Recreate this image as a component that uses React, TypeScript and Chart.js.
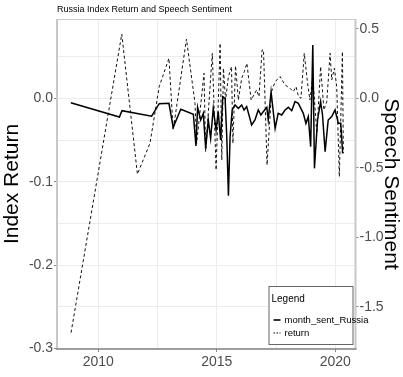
import React, { useEffect, useRef } from "react";
import { Chart, registerables } from "chart.js";

Chart.register(...registerables);

const TITLE = "Russia Index Return and Speech Sentiment";
const LEFT_TITLE = "Index Return";
const RIGHT_TITLE = "Speech Sentiment";
const LEGEND_TITLE = "Legend";
const SERIES_NAMES = ["month_sent_Russia", "return"];

// Speech sentiment (right axis)
const sentDates = [
  2008.84, 2010.89, 2011.0, 2012.25, 2012.57, 2012.98, 2013.16, 2013.48,
  2014.01, 2014.12, 2014.19, 2014.32, 2014.43, 2014.53, 2014.64, 2014.74,
  2014.85, 2014.97, 2015.06, 2015.16, 2015.25, 2015.35, 2015.42, 2015.49,
  2015.56, 2015.65, 2015.77, 2015.91, 2016.05, 2016.15, 2016.26, 2016.47,
  2016.61, 2016.75, 2016.86, 2016.96, 2017.11, 2017.17, 2017.29, 2017.46,
  2017.59, 2017.74, 2017.88, 2018.02, 2018.16, 2018.3, 2018.44, 2018.65,
  2018.76, 2018.86, 2018.96, 2019.05, 2019.12, 2019.25, 2019.38, 2019.46,
  2019.57, 2019.7, 2019.85, 2019.99, 2020.13, 2020.23, 2020.31,
];
const sentValues = [
  -0.032, -0.135, -0.089, -0.129, -0.039, -0.036, -0.209, -0.079,
  -0.115, -0.343, -0.065, -0.156, -0.108, -0.36, -0.156, -0.288,
  -0.072, -0.228, -0.096, -0.3, 0.012, 0.0, -0.276, -0.701,
  -0.276, -0.084, -0.048, -0.072, -0.048, -0.084, -0.06, -0.192,
  -0.156, -0.084, -0.12, -0.096, -0.065, -0.156, 0.047, -0.216,
  -0.108, -0.12, -0.084, -0.065, -0.089, -0.024, -0.036, -0.108,
  -0.18, -0.132, -0.348, 0.383, -0.504, -0.156, -0.024, -0.12,
  -0.384, -0.156, -0.132, -0.084, -0.18, -0.18, -0.396,
];

// Index return (left axis)
const returnDates = [
  2008.85, 2010.99, 2011.65, 2012.18, 2012.57, 2012.98, 2013.16, 2013.72,
  2014.08, 2014.15, 2014.46, 2014.53, 2014.81, 2014.97, 2015.14, 2015.21,
  2015.28, 2015.37, 2015.49, 2015.62, 2015.68, 2015.79, 2015.91, 2016.05,
  2016.16, 2016.27, 2016.45, 2016.68, 2016.78, 2016.91, 2016.97, 2017.12,
  2017.31, 2017.46, 2017.67, 2017.88, 2018.09, 2018.23, 2018.34, 2018.45,
  2018.55, 2018.69, 2018.83, 2018.93, 2019.05, 2019.22, 2019.38, 2019.52,
  2019.64, 2019.78, 2019.85, 2019.96, 2020.06, 2020.17, 2020.3, 2020.34,
];
const returnValues = [
  -0.281, 0.077, -0.091, -0.054, 0.014, 0.048, -0.038, 0.071,
  -0.006, -0.054, 0.03, -0.064, 0.054, -0.086, 0.066, -0.074,
  0.036, -0.002, 0.026, 0.038, -0.054, 0.039, -0.002, 0.024,
  0.032, 0.042, -0.002, 0.01, 0.002, 0.058, 0.058, -0.08,
  0.008, 0.02, 0.026, 0.016, 0.012, 0.008, 0.014, 0.002,
  0.0, 0.054, 0.018, -0.002, 0.026, -0.042, 0.038, -0.014,
  -0.004, 0.054, 0.022, 0.036, 0.014, -0.094, 0.056, -0.066,
];

const leftMajor = [-0.3, -0.2, -0.1, 0.0];
const leftMinor = [-0.25, -0.15, -0.05, 0.05];
const rightMajor = [-1.5, -1.0, -0.5, 0.0, 0.5];
const xMajor = [2010, 2015, 2020];
const xMinor = [2012.5, 2017.5];

const NARROW = '"Liberation Sans Narrow", "Liberation Sans", Arial, sans-serif';
const REGULAR = '"Liberation Sans", Arial, sans-serif';

const isIn = (arr: number[], v: number) => arr.some((a) => Math.abs(a - v) < 1e-6);

const decor = {
  id: "decor",
  beforeDraw(chart: any) {
    const { ctx, width, height } = chart;
    ctx.save();
    ctx.fillStyle = "#ffffff";
    ctx.fillRect(0, 0, width, height);
    ctx.restore();
  },
  afterDatasetsDraw(chart: any) {
    const { ctx, chartArea: a } = chart;
    ctx.save();
    const line = (x1: number, y1: number, x2: number, y2: number, c: string, w: number) => {
      ctx.beginPath();
      ctx.strokeStyle = c;
      ctx.lineWidth = w;
      ctx.setLineDash([]);
      ctx.moveTo(x1, y1);
      ctx.lineTo(x2, y2);
      ctx.stroke();
    };
    line(a.left, a.top + 0.5, a.right, a.top + 0.5, "#c8c8c8", 1);
    line(a.left, a.top, a.left, a.bottom, "#c8c8c8", 2);
    line(a.right, a.top, a.right, a.bottom, "#c8c8c8", 2);
    line(a.left - 1, a.bottom, a.right + 1, a.bottom, "#808080", 1.5);

    // title
    ctx.fillStyle = "#000000";
    ctx.font = `9px ${NARROW}`;
    ctx.textAlign = "left";
    ctx.textBaseline = "middle";
    ctx.fillText(TITLE, a.left, 10);

    // legend
    const bw = 84;
    const bh = 58;
    const bx = a.right - 3 - bw;
    const by = a.bottom - 5 - bh;
    ctx.fillStyle = "#ffffff";
    ctx.fillRect(bx, by, bw, bh);
    ctx.strokeStyle = "#666666";
    ctx.lineWidth = 1;
    ctx.strokeRect(bx + 0.5, by + 0.5, bw, bh);
    ctx.fillStyle = "#000000";
    ctx.font = `10px ${NARROW}`;
    ctx.fillText(LEGEND_TITLE, bx + 3, by + 13);
    const y1 = by + 34;
    const y2 = by + 47;
    ctx.beginPath();
    ctx.strokeStyle = "#000000";
    ctx.lineWidth = 1.6;
    ctx.moveTo(bx + 5, y1);
    ctx.lineTo(bx + 12, y1);
    ctx.stroke();
    ctx.beginPath();
    ctx.lineWidth = 1;
    ctx.setLineDash([1.5, 1.5]);
    ctx.moveTo(bx + 5, y2);
    ctx.lineTo(bx + 12, y2);
    ctx.stroke();
    ctx.setLineDash([]);
    ctx.font = `9.5px ${NARROW}`;
    ctx.fillText(SERIES_NAMES[0], bx + 16, y1);
    ctx.fillText(SERIES_NAMES[1], bx + 16, y2);
    ctx.restore();
  },
};

export default function App() {
  const ref = useRef<HTMLCanvasElement | null>(null);
  useEffect(() => {
    if (!ref.current) return;
    const chart = new Chart(ref.current, {
      type: "line",
      data: {
        datasets: [
          {
            label: SERIES_NAMES[0],
            data: sentDates.map((d, i) => ({ x: d, y: sentValues[i] })),
            yAxisID: "y2",
            borderColor: "#000000",
            borderWidth: 1.5,
            pointRadius: 0,
            tension: 0,
            fill: false,
          },
          {
            label: SERIES_NAMES[1],
            data: returnDates.map((d, i) => ({ x: d, y: returnValues[i] })),
            yAxisID: "y",
            borderColor: "#111111",
            borderWidth: 1,
            borderDash: [3, 2.5],
            pointRadius: 0,
            tension: 0,
            fill: false,
          },
        ],
      },
      options: {
        animation: false,
        responsive: false,
        layout: { padding: { top: 19, left: 0, right: 0, bottom: 0 } },
        plugins: {
          legend: { display: false },
          tooltip: { enabled: false },
          title: { display: false },
        },
        scales: {
          x: {
            type: "linear",
            min: 2008.257,
            max: 2020.852,
            afterBuildTicks: (s: any) => {
              s.ticks = [...xMajor, ...xMinor].sort((a, b) => a - b).map((v) => ({ value: v }));
            },
            afterFit: (s: any) => {
              s.height = 28;
            },
            ticks: {
              autoSkip: false,
              maxRotation: 0,
              padding: 2,
              color: "#4d4d4d",
              font: { family: NARROW, size: 14 },
              callback: (v: any) => (isIn(xMajor, Number(v)) ? String(Math.round(Number(v))) : ""),
            },
            grid: {
              color: "#ececec",
              lineWidth: 1,
              tickLength: 3,
              tickColor: (c: any) => (c.tick && isIn(xMajor, c.tick.value) ? "#888888" : "rgba(0,0,0,0)"),
            },
            border: { display: false },
          },
          y: {
            type: "linear",
            position: "left",
            min: -0.3006,
            max: 0.0951,
            afterBuildTicks: (s: any) => {
              s.ticks = [...leftMajor, ...leftMinor].sort((a, b) => a - b).map((v) => ({ value: v }));
            },
            afterFit: (s: any) => {
              s.width = 57;
            },
            ticks: {
              autoSkip: false,
              padding: 1,
              color: "#4d4d4d",
              font: { family: NARROW, size: 14 },
              callback: (v: any) => (isIn(leftMajor, Number(v)) ? Number(v).toFixed(1) : ""),
            },
            grid: {
              color: "#ececec",
              lineWidth: 1,
              tickLength: 3,
              tickColor: (c: any) => (c.tick && isIn(leftMajor, c.tick.value) ? "#888888" : "rgba(0,0,0,0)"),
            },
            border: { display: false },
            title: {
              display: true,
              text: LEFT_TITLE,
              color: "#000000",
              font: { family: REGULAR, size: 21 },
              padding: { top: 0, bottom: 0 },
            },
          },
          y2: {
            type: "linear",
            position: "right",
            min: -1.8036,
            max: 0.5706,
            afterBuildTicks: (s: any) => {
              s.ticks = rightMajor.map((v) => ({ value: v }));
            },
            afterFit: (s: any) => {
              s.width = 47.5;
            },
            ticks: {
              autoSkip: false,
              padding: 1,
              color: "#4d4d4d",
              font: { family: NARROW, size: 14 },
              callback: (v: any) => Number(v).toFixed(1),
            },
            grid: {
              drawOnChartArea: false,
              tickLength: 3,
              tickColor: "#888888",
            },
            border: { display: false },
            title: {
              display: true,
              text: RIGHT_TITLE,
              color: "#000000",
              font: { family: REGULAR, size: 21 },
              padding: { top: 0, bottom: 0 },
            },
          },
        },
      } as any,
      plugins: [decor],
    });
    return () => chart.destroy();
  }, []);

  return (
    <div style={{ position: "absolute", left: 0, top: 0, width: 403, height: 377 }}>
      <canvas ref={ref} width={403} height={377} style={{ display: "block", width: 403, height: 377 }} />
    </div>
  );
}
